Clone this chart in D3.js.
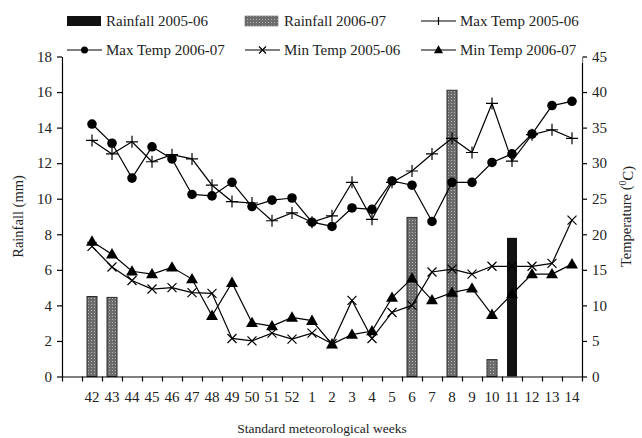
<!DOCTYPE html>
<html><head><meta charset="utf-8">
<script src="https://cdn.jsdelivr.net/npm/d3@7"></script>
<style>
html,body{margin:0;padding:0;background:#fff;}
svg{display:block;font-family:"Liberation Serif","Times New Roman",serif;}
</style></head>
<body>
<svg id="chart" width="642" height="438"></svg>
<script>
const categories = ["","42","43","44","45","46","47","48","49","50","51","52","1","2","3","4","5","6","7","8","9","10","11","12","13","14"];
const weeks = ["42","43","44","45","46","47","48","49","50","51","52","1","2","3","4","5","6","7","8","9","10","11","12","13","14"];
const rain0506 = [0,0,0,0,0,0,0,0,0,0,0, 0,0,0,0,0,0,0,0,0,0,7.8,0,0,0];
const rain0607 = [4.5,4.45,0,0,0,0,0,0,0,0,0, 0,0,0,0,0,8.95,0,16.1,0,0.95,0,0,0,0];
const maxT0506 = [33.2,31.3,33.0,30.2,31.2,30.6,26.9,24.6,24.4,21.9,23.0, 21.7,22.6,27.3,22.1,27.3,28.9,31.3,33.5,31.5,38.4,30.3,34.0,34.7,33.5];
const maxT0607 = [35.5,32.8,27.9,32.3,30.6,25.6,25.4,27.3,23.9,24.8,25.1, 21.7,21.1,23.7,23.5,27.5,26.9,21.8,27.3,27.3,30.1,31.3,34.1,38.1,38.7];
const minT0506 = [18.3,15.4,13.5,12.3,12.5,11.8,11.7,5.35,5.0,6.1,5.25, 6.1,4.6,10.7,5.35,9.0,10.0,14.7,15.1,14.4,15.5,15.5,15.5,15.9,22.0];
const minT0607 = [19.0,17.2,14.8,14.4,15.35,13.7,8.55,13.2,7.55,7.1,8.3, 7.85,4.55,5.9,6.4,11.1,13.8,10.75,11.8,12.4,8.7,11.6,14.4,14.4,15.8];
const rainTicks = [0,2,4,6,8,10,12,14,16,18];
const tempTicks = [0,5,10,15,20,25,30,35,40,45];

const L=62, R=582, T=56.5, B=376.5;
const svg = d3.select("#chart");
const defs = svg.append("defs");
const pat = defs.append("pattern").attr("id","dots").attr("width",3).attr("height",3).attr("patternUnits","userSpaceOnUse");
pat.append("rect").attr("width",3).attr("height",3).attr("fill","#6c6c6c");
pat.append("rect").attr("x",1).attr("y",1).attr("width",1).attr("height",1).attr("fill","#b4b4b4");

const x = d3.scaleBand().domain(categories).range([L,R]).paddingInner(0).paddingOuter(0);
const xEdge = d3.scaleLinear().domain([0,categories.length]).range([L,R]);
const yL = d3.scaleLinear().domain([0,18]).range([B,T]);
const yR = d3.scaleLinear().domain([0,45]).range([B,T]);
const cx = w => x(w)+x.bandwidth()/2;
const barW = 10;

svg.append("g").selectAll("rect").data(weeks.map((w,i)=>({w,v:rain0607[i]})).filter(d=>d.v>0))
  .join("rect").attr("x",d=>cx(d.w)-barW/2).attr("y",d=>yL(d.v)).attr("width",barW).attr("height",d=>B-yL(d.v))
  .attr("fill","url(#dots)").attr("stroke","#2a2a2a").attr("stroke-width",1);
svg.append("g").selectAll("rect").data(weeks.map((w,i)=>({w,v:rain0506[i]})).filter(d=>d.v>0))
  .join("rect").attr("x",d=>cx(d.w)-barW/2).attr("y",d=>yL(d.v)).attr("width",barW).attr("height",d=>B-yL(d.v))
  .attr("fill","#111");

svg.append("g").attr("transform",`translate(0,${B})`)
  .call(d3.axisBottom(xEdge).tickValues(d3.range(0,categories.length+1)).tickFormat("").tickSize(5).tickSizeOuter(0));
const gxl = svg.append("g").attr("transform",`translate(0,${B})`)
  .call(d3.axisBottom(x).tickSize(0).tickPadding(15));
gxl.select(".domain").remove();
svg.append("g").attr("transform",`translate(${L},0)`)
  .call(d3.axisLeft(yL).tickValues(rainTicks).tickSize(5).tickSizeOuter(0).tickPadding(5));
svg.append("g").attr("transform",`translate(${R},0)`)
  .call(d3.axisRight(yR).tickValues(tempTicks).tickSize(5).tickSizeOuter(0).tickPadding(5));
svg.selectAll(".domain, .tick line").attr("stroke","#000").attr("stroke-width",1.2);
svg.selectAll(".tick text").attr("font-family","Liberation Serif, serif").attr("font-size",15).attr("fill","#222");

const series = [
  {vals:maxT0506, m:"plus"},
  {vals:maxT0607, m:"circle"},
  {vals:minT0506, m:"cross"},
  {vals:minT0607, m:"tri"}
];
const line = d3.line().x((d,i)=>cx(weeks[i])).y(d=>yR(d));
function marker(g, type, px, py){
  if(type==="plus"){
    g.append("path").attr("d",`M${px-6},${py}H${px+6}M${px},${py-6}V${py+6}`).attr("stroke","#000").attr("stroke-width",1.2);
  } else if(type==="circle"){
    g.append("circle").attr("cx",px).attr("cy",py).attr("r",4.8).attr("fill","#000");
  } else if(type==="cross"){
    g.append("path").attr("d",`M${px-4.5},${py-4.5}L${px+4.5},${py+4.5}M${px-4.5},${py+4.5}L${px+4.5},${py-4.5}`).attr("stroke","#000").attr("stroke-width",1.2);
  } else {
    g.append("path").attr("d",d3.symbol(d3.symbolTriangle,62)()).attr("transform",`translate(${px},${py+0.8})`).attr("fill","#000");
  }
}
series.forEach(s=>{
  const g = svg.append("g");
  g.append("path").datum(s.vals).attr("d",line).attr("fill","none").attr("stroke","#000").attr("stroke-width",1.2);
  s.vals.forEach((v,i)=>marker(g,s.m,cx(weeks[i]),yR(v)));
});

const lg = svg.append("g");
lg.append("rect").attr("x",L+1.5).attr("y",0).attr("width",R-L-1).attr("height",63).attr("fill","#fff");
const lf = 15;
const items = [
  {t:"Rainfall 2005-06", type:"black", x:67, y:21},
  {t:"Rainfall 2006-07", type:"pat", x:245, y:21},
  {t:"Max Temp 2005-06", type:"plus", x:421, y:21},
  {t:"Max Temp 2006-07", type:"circle", x:67, y:50},
  {t:"Min Temp 2005-06", type:"cross", x:245, y:50},
  {t:"Min Temp 2006-07", type:"tri", x:421, y:50}
];
items.forEach(it=>{
  if(it.type==="black"){
    lg.append("rect").attr("x",it.x).attr("y",it.y-5).attr("width",34).attr("height",10).attr("fill","#111");
  } else if(it.type==="pat"){
    lg.append("rect").attr("x",it.x).attr("y",it.y-5).attr("width",33).attr("height",10).attr("fill","url(#dots)").attr("stroke","#666").attr("stroke-width",0.6);
  } else {
    lg.append("line").attr("x1",it.x).attr("x2",it.x+35).attr("y1",it.y).attr("y2",it.y).attr("stroke","#000").attr("stroke-width",1.2);
    const mg = lg.append("g");
    if(it.type==="plus") mg.append("path").attr("d",`M${it.x+17.5},${it.y-4}V${it.y+4}`).attr("stroke","#000").attr("stroke-width",1.2);
    else if(it.type==="circle") mg.append("circle").attr("cx",it.x+17.5).attr("cy",it.y).attr("r",3.5).attr("fill","#000");
    else if(it.type==="cross") mg.append("path").attr("d",`M${it.x+14},${it.y-3.5}L${it.x+21},${it.y+3.5}M${it.x+14},${it.y+3.5}L${it.x+21},${it.y-3.5}`).attr("stroke","#000").attr("stroke-width",1.2);
    else mg.append("path").attr("d",d3.symbol(d3.symbolTriangle,36)()).attr("transform",`translate(${it.x+17.5},${it.y+0.5})`).attr("fill","#000");
  }
  lg.append("text").attr("x",it.x+39).attr("y",it.y).attr("dy","0.35em").attr("font-size",lf).attr("fill","#222").text(it.t);
});

svg.append("text").attr("transform",`translate(18,${(T+B)/2}) rotate(-90)`).attr("text-anchor","middle").attr("dy","0.35em")
  .attr("font-size",14.5).attr("fill","#222").text("Rainfall (mm)");
const tt = svg.append("text").attr("transform",`translate(626,${(T+B)/2}) rotate(-90)`).attr("text-anchor","middle").attr("dy","0.35em")
  .attr("font-size",14.5).attr("fill","#222");
tt.append("tspan").text("Temperature (");
tt.append("tspan").attr("font-size",10).attr("dy","-0.5em").text("0");
tt.append("tspan").attr("dy","0.5em").text("C)");
svg.append("text").attr("x",(L+R)/2).attr("y",428).attr("text-anchor","middle").attr("dy","0.35em")
  .attr("font-size",13.5).attr("fill","#222").text("Standard meteorological weeks");
</script>
</body></html>
